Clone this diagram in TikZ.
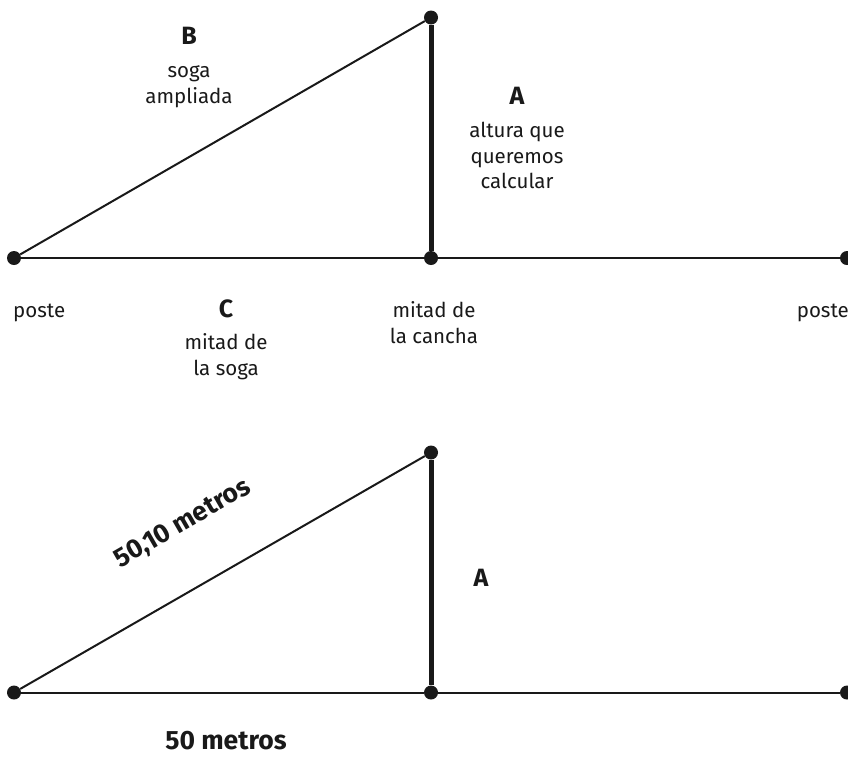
\documentclass[tikz,border=0pt]{standalone}
\usepackage{fontspec}
\setmainfont{Fira Sans}
\begin{document}
\begin{tikzpicture}[x=1pt,y=-1pt,
  dot/.style={circle,fill=black!90,inner sep=0pt,minimum size=14pt},
  rope/.style={line width=2pt,black!90},
  pole/.style={line width=5pt,black!90},
  lbl/.style={font=\fontsize{20.5}{26}\selectfont,inner sep=0pt,anchor=base,text=black!90},
  big/.style={font=\fontsize{25}{26}\selectfont\bfseries,inner sep=0pt,anchor=base,text=black!90},
  meas/.style={font=\fontsize{26.5}{28}\selectfont\bfseries,inner sep=0pt,anchor=base,text=black!90}]
\useasboundingbox (0,0) rectangle (848,756);
% top diagram
\node[dot] (p1) at (14,258) {};
\node[dot] (t1) at (431,17.5) {};
\node[dot] (m1) at (431,258) {};
\node[dot] (q1) at (847,258) {};
\draw[rope] (p1) -- (t1);
\draw[rope] (p1) -- (m1);
\draw[rope] (m1) -- (q1);
\draw[pole] (t1) -- (m1);
\node[big] (B) at (189,44) {B};
\node[lbl] (B1) at (189,77.5) {soga};
\node[lbl] (B2) at (189,103) {ampliada};
\node[big] (A) at (517,104) {A};
\node[lbl] (A1) at (517,137.5) {altura que};
\node[lbl] (A2) at (517,163) {queremos};
\node[lbl] (A3) at (517,188.5) {calcular};
\node[lbl,anchor=base west] (P1) at (13,317) {poste};
\node[lbl,anchor=base east] (P2) at (849,317) {poste};
\node[big] (C) at (226,317) {C};
\node[lbl] (C1) at (226,349.5) {mitad de};
\node[lbl] (C2) at (226,375) {la soga};
\node[lbl] (M1) at (434,317) {mitad de};
\node[lbl] (M2) at (434,343) {la cancha};
% bottom diagram
\node[dot] (p2) at (14,692.5) {};
\node[dot] (t2) at (431,452.5) {};
\node[dot] (m2) at (431,692.5) {};
\node[dot] (q2) at (847,692.5) {};
\draw[rope] (p2) -- (t2);
\draw[rope] (p2) -- (m2);
\draw[rope] (m2) -- (q2);
\draw[pole] (t2) -- (m2);
\node[meas,anchor=center,rotate=30] (H) at (183,524) {50,10 metros};
\node[big] (A4) at (481,586) {A};
\node[meas] (L) at (226,749) {50 metros};
\end{tikzpicture}
\end{document}
